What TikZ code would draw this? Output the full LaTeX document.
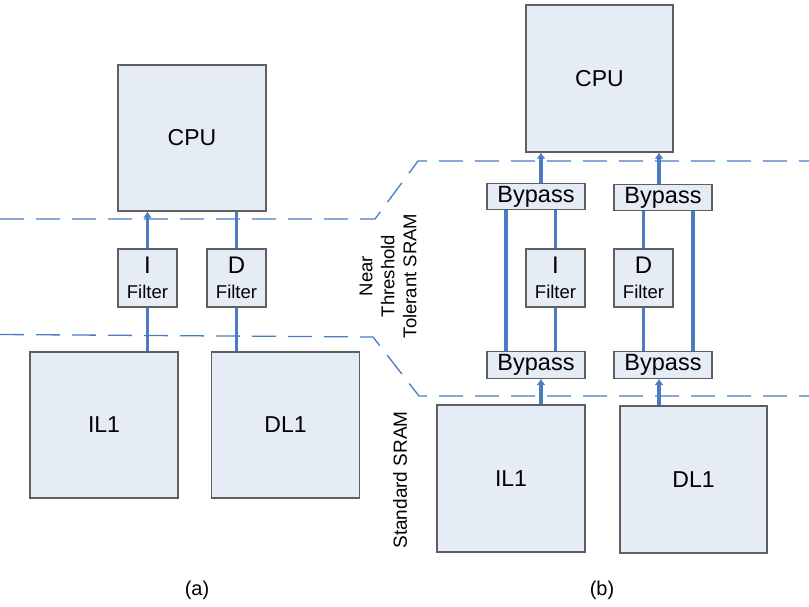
\documentclass[tikz,border=0pt]{standalone}
\usepackage{fontspec}
\setmainfont{Liberation Sans}
\usetikzlibrary{arrows.meta}
\definecolor{boxfill}{HTML}{E6ECF6}
\definecolor{boxline}{HTML}{5F5F5F}
\definecolor{conn}{HTML}{4A7BC4}
\tikzset{
  box/.style={draw=boxline, line width=1.2pt, fill=boxfill, inner sep=0pt, align=center, text=black},
  big/.style={box, minimum width=148pt, minimum height=146pt, font=\fontsize{23}{26}\selectfont},
  filt/.style={box, minimum width=59pt, minimum height=58pt, font=\fontsize{18.5}{25}\selectfont},
  byp/.style={box, minimum width=98pt, minimum height=26.5pt, font=\fontsize{23.5}{26}\selectfont},
  wire/.style={draw=conn, line width=3.4pt},
  awire/.style={wire, -{Latex[length=6pt,width=9pt]}},
  zone/.style={draw=conn, line width=1.3pt, dash pattern=on 24pt off 12pt},
  lab/.style={font=\fontsize{18.5}{22}\selectfont, align=center, inner sep=0pt},
}
\newcommand{\filtxt}[1]{{\fontsize{24}{25}\selectfont #1}\\Filter}
\begin{document}
\begin{tikzpicture}[x=1pt,y=-1pt]
\useasboundingbox (0,0) rectangle (809,607);
% zone boundaries
\draw[zone] (0,219) -- (375,219) -- (418,161) -- (809,161);
\draw[zone] (0,334.5) -- (373,337) -- (419,396) -- (809,396);
% (a)
\node[big] (cpuA) at (192,138) {CPU};
\node[filt] (ifA) at (147.5,278) {\filtxt{I}};
\node[filt] (dfA) at (236.5,278) {\filtxt{D}};
\node[big] (ilA) at (104,425) {IL1};
\node[big] (dlA) at (285.5,425) {DL1};
\draw[awire] (ifA.north) -- (cpuA.south -| ifA.north);
\draw[wire] (dfA.north) -- (cpuA.south -| dfA.north);
\draw[wire] (ilA.north -| ifA.south) -- (ifA.south);
\draw[wire] (dlA.north -| dfA.south) -- (dfA.south);
\node[lab] (capA) at (197,590) {\fontsize{20}{22}\selectfont (a)};
% (b)
\node[big, minimum width=147pt, minimum height=147pt] (cpuB) at (599.5,78.5) {CPU};
\node[byp] (bpTL) at (536,196.5) {Bypass};
\node[byp] (bpTR) at (663,197.5) {Bypass};
\node[filt] (ifB) at (555.5,278) {\filtxt{I}};
\node[filt] (dfB) at (643.5,278) {\filtxt{D}};
\node[byp] (bpBL) at (536,365) {Bypass};
\node[byp] (bpBR) at (663,365) {Bypass};
\node[big, minimum width=148pt, minimum height=147pt] (ilB) at (511,478.5) {IL1};
\node[big, minimum width=147pt, minimum height=147pt] (dlB) at (693.5,479.5) {DL1};
\coordinate (xa) at (541,0);
\coordinate (xb) at (659,0);
\coordinate (xl) at (506,0);
\coordinate (xr) at (693,0);
\draw[awire] (bpTL.north -| xa) -- (cpuB.south -| xa);
\draw[awire] (bpTR.north -| xb) -- (cpuB.south -| xb);
\draw[awire] (ilB.north -| xa) -- (bpBL.south -| xa);
\draw[awire] (dlB.north -| xb) -- (bpBR.south -| xb);
\draw[wire] (bpTL.south -| xl) -- (bpBL.north -| xl);
\draw[wire] (bpTL.south -| ifB.north) -- (ifB.north);
\draw[wire] (ifB.south) -- (bpBL.north -| ifB.south);
\draw[wire] (bpTR.south -| dfB.north) -- (dfB.north);
\draw[wire] (dfB.south) -- (bpBR.north -| dfB.south);
\draw[wire] (bpTR.south -| xr) -- (bpBR.north -| xr);
\node[lab, rotate=90] (ntl) at (388,276) {Near\\Threshold\\Tolerant SRAM};
\node[lab, rotate=90, font=\fontsize{19}{22}\selectfont] (std) at (400,480) {Standard SRAM};
\node[lab] (capB) at (602,590) {\fontsize{20}{22}\selectfont (b)};
\end{tikzpicture}
\end{document}
